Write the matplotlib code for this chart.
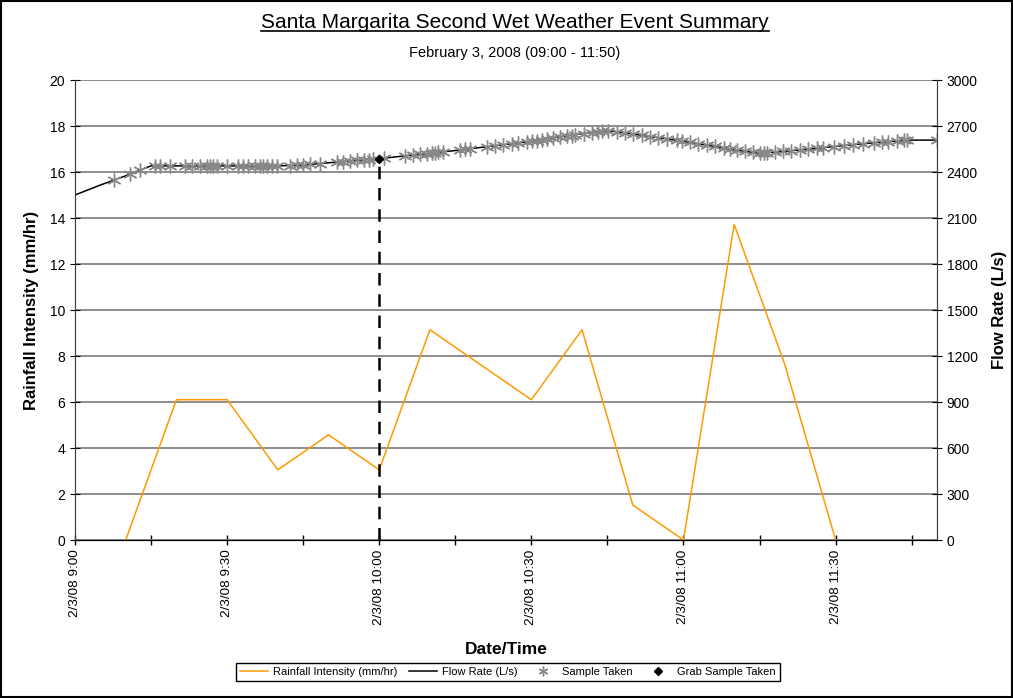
import matplotlib
matplotlib.use("Agg")
import matplotlib.pyplot as plt
from matplotlib.lines import Line2D
from matplotlib.patches import Rectangle

plt.rcParams['font.family'] = ['Liberation Sans', 'DejaVu Sans']

# ---- data (minutes after 2/3/08 9:00) ----
rain_minutes = [10, 20, 30, 40, 50, 60, 70, 80, 90, 100, 110, 120, 130, 140, 150]
rain_values = [0, 6.1, 6.1, 3.05, 4.57, 3.05, 9.14, 7.62, 6.1, 9.14, 1.52, 0, 13.72, 7.62, 0]

flow_minutes = [0, 5, 10, 15, 20, 25, 30, 35, 40, 45, 50, 55, 60, 65, 70, 75, 80, 85,
                90, 95, 100, 105, 110, 115, 120, 125, 130, 135, 140, 145, 150, 155,
                160, 165, 170]
flow_values = [2250, 2315, 2375, 2440, 2440, 2440, 2440, 2440, 2440, 2445, 2460, 2475,
               2487, 2505, 2522, 2540, 2560, 2580, 2600, 2627, 2650, 2670, 2648, 2624,
               2600, 2573, 2545, 2522, 2535, 2550, 2567, 2583, 2597, 2608, 2608]

sample_minutes = [7.6, 10.8, 12.8, 15.8, 16.8, 18.7, 21.7, 23, 24.7, 26, 26.6, 27.3, 28,
                  29.9, 32.2, 33.2, 34.2, 35.5, 36.5, 37.1, 37.8, 38.8, 39.8, 42.4, 43.7,
                  45, 46.4, 48.3, 51.6, 52.9, 54.2, 55.6, 56.9, 57.9, 58.8, 61,
                  65.1, 66.7, 68, 69.4, 70.4, 71, 71.6, 72.6, 75.9, 76.9, 77.9, 81.3,
                  82.8, 84.4, 86.2, 87.4, 89.2, 90.1,
                  91.1, 92.1, 93.1, 94.3, 95.7, 97, 98, 98.6, 100.3, 101.9, 103.2, 103.9,
                  105.2, 106.8, 108.5, 110.1, 111.8, 113.4, 115, 116.7, 118.7,
                  119.7, 121.3, 122.9, 124.6, 126.2, 127.9, 129.2, 130.5, 132.1, 133.8,
                  135.1, 135.8, 136.4, 138.1, 139.7, 141.3, 143, 144.6, 146.3, 147.6,
                  149.6, 151.6, 153.5, 155.5, 157.5, 159.1, 160.4, 162.1, 163.4, 164, 170]
sample_values = [2346, 2387, 2412, 2440, 2440, 2440, 2440, 2440, 2440, 2440, 2440, 2440, 2440,
                 2440, 2440, 2440, 2440, 2440, 2440, 2440, 2440, 2440, 2440, 2442, 2443,
                 2445, 2449, 2455, 2465, 2468, 2472, 2476, 2479, 2481, 2484, 2490,
                 2505, 2510, 2515, 2520, 2524, 2526, 2528, 2532, 2545, 2548, 2552, 2565,
                 2570, 2576, 2583, 2588, 2595, 2600,
                 2605, 2610, 2614, 2620, 2627, 2633, 2638, 2640, 2648, 2656, 2662, 2665,
                 2670, 2662, 2654, 2647, 2639, 2631, 2624, 2616, 2606,
                 2601, 2593, 2585, 2576, 2568, 2559, 2552, 2545, 2537, 2528,
                 2522, 2523, 2524, 2530, 2535, 2540, 2545, 2550, 2555, 2559,
                 2565, 2571, 2577, 2583, 2588, 2593, 2597, 2602, 2606, 2608, 2608]

grab_minutes = [60]
grab_values = [2487]

xtick_minutes = [0, 30, 60, 90, 120, 150]
xtick_labels = ["2/3/08 9:00", "2/3/08 9:30", "2/3/08 10:00", "2/3/08 10:30",
                "2/3/08 11:00", "2/3/08 11:30"]

# ---- figure ----
fig = plt.figure(figsize=(10.13, 6.98), dpi=100)
ax = fig.add_axes([75 / 1013, 1 - 540 / 698, (937 - 75) / 1013, (540 - 80) / 698])
ax2 = ax.twinx()

ax.set_xlim(0, 170)
ax.set_ylim(0, 20)
ax2.set_ylim(0, 3000)
ax.set_yticks(range(0, 21, 2))
ax2.set_yticks(range(0, 3001, 300))
ax.set_xticks(xtick_minutes)
ax.set_xticklabels(xtick_labels, rotation=90, fontsize=9.7)
ax.set_xticks([15, 45, 75, 105, 135, 165], minor=True)
ax.tick_params(axis='x', which='both', direction='inout', length=7, width=1)
ax.tick_params(axis='y', direction='inout', length=7, labelsize=10)
ax2.tick_params(axis='y', direction='inout', length=7, labelsize=10)

ax.grid(axis='y', color='#7a7a7a', linewidth=1.2)
ax.set_axisbelow(True)
for a in (ax, ax2):
    a.spines['top'].set_visible(False)
    a.spines['left'].set_color('#404040')
    a.spines['right'].set_color('#404040')
    a.spines['bottom'].set_color('black')

l_rain, = ax.plot(rain_minutes, rain_values, color='#FF9900', linewidth=1.1,
                  label='Rainfall Intensity (mm/hr)')
l_flow, = ax2.plot(flow_minutes, flow_values, color='black', linewidth=1.1,
                   label='Flow Rate (L/s)')
l_samp, = ax2.plot(sample_minutes, sample_values, linestyle='none', marker=(6, 2, 0),
                   markersize=10, markeredgecolor='#888888', markeredgewidth=1.0,
                   color='#888888', label='Sample Taken')
ax2.vlines(grab_minutes, 0, grab_values, colors='black', linestyles=(0, (5, 3.5)),
           linewidth=1.8)
l_grab, = ax2.plot(grab_minutes, grab_values, linestyle='none', marker='D',
                   markersize=4.5, color='black', label='Grab Sample Taken')

ax.set_ylabel('Rainfall Intensity (mm/hr)', fontsize=12, fontweight='bold', labelpad=8)
ax2.set_ylabel('Flow Rate (L/s)', fontsize=12, fontweight='bold', labelpad=10)
ax.set_xlabel('Date/Time', fontsize=12.5, fontweight='bold', labelpad=12)

t = fig.text(515 / 1013, 1 - 22 / 698, 'Santa Margarita Second Wet Weather Event Summary',
             ha='center', va='center', fontsize=15)
fig.text(515 / 1013, 1 - 53 / 698, 'February 3, 2008 (09:00 - 11:50)',
         ha='center', va='center', fontsize=10.5)

leg = fig.legend(handles=[l_rain, l_flow, l_samp, l_grab], loc='center',
                 bbox_to_anchor=(508 / 1013, 1 - 672 / 698), ncol=4, fontsize=8,
                 frameon=True, fancybox=False, edgecolor='black', framealpha=1,
                 handlelength=2.5, columnspacing=1.0, handletextpad=0.5, borderpad=0.35)
for h in leg.legend_handles:
    if h.get_marker() == (6, 2, 0):
        h.set_markersize(7)

fig.patches.append(Rectangle((0.001, 0.001), 0.998, 0.998, transform=fig.transFigure,
                             fill=False, edgecolor='black', linewidth=1.5))

# underline title
fig.canvas.draw()
bb = t.get_window_extent(renderer=fig.canvas.get_renderer())
inv = fig.transFigure.inverted()
(x0, y0), (x1, y1) = inv.transform([(bb.x0, bb.y0), (bb.x1, bb.y1)])
fig.add_artist(Line2D([x0, x1], [y0 + 0.001, y0 + 0.001], color='black', linewidth=1.2,
                      transform=fig.transFigure))

fig.savefig('out.png', dpi=100)
